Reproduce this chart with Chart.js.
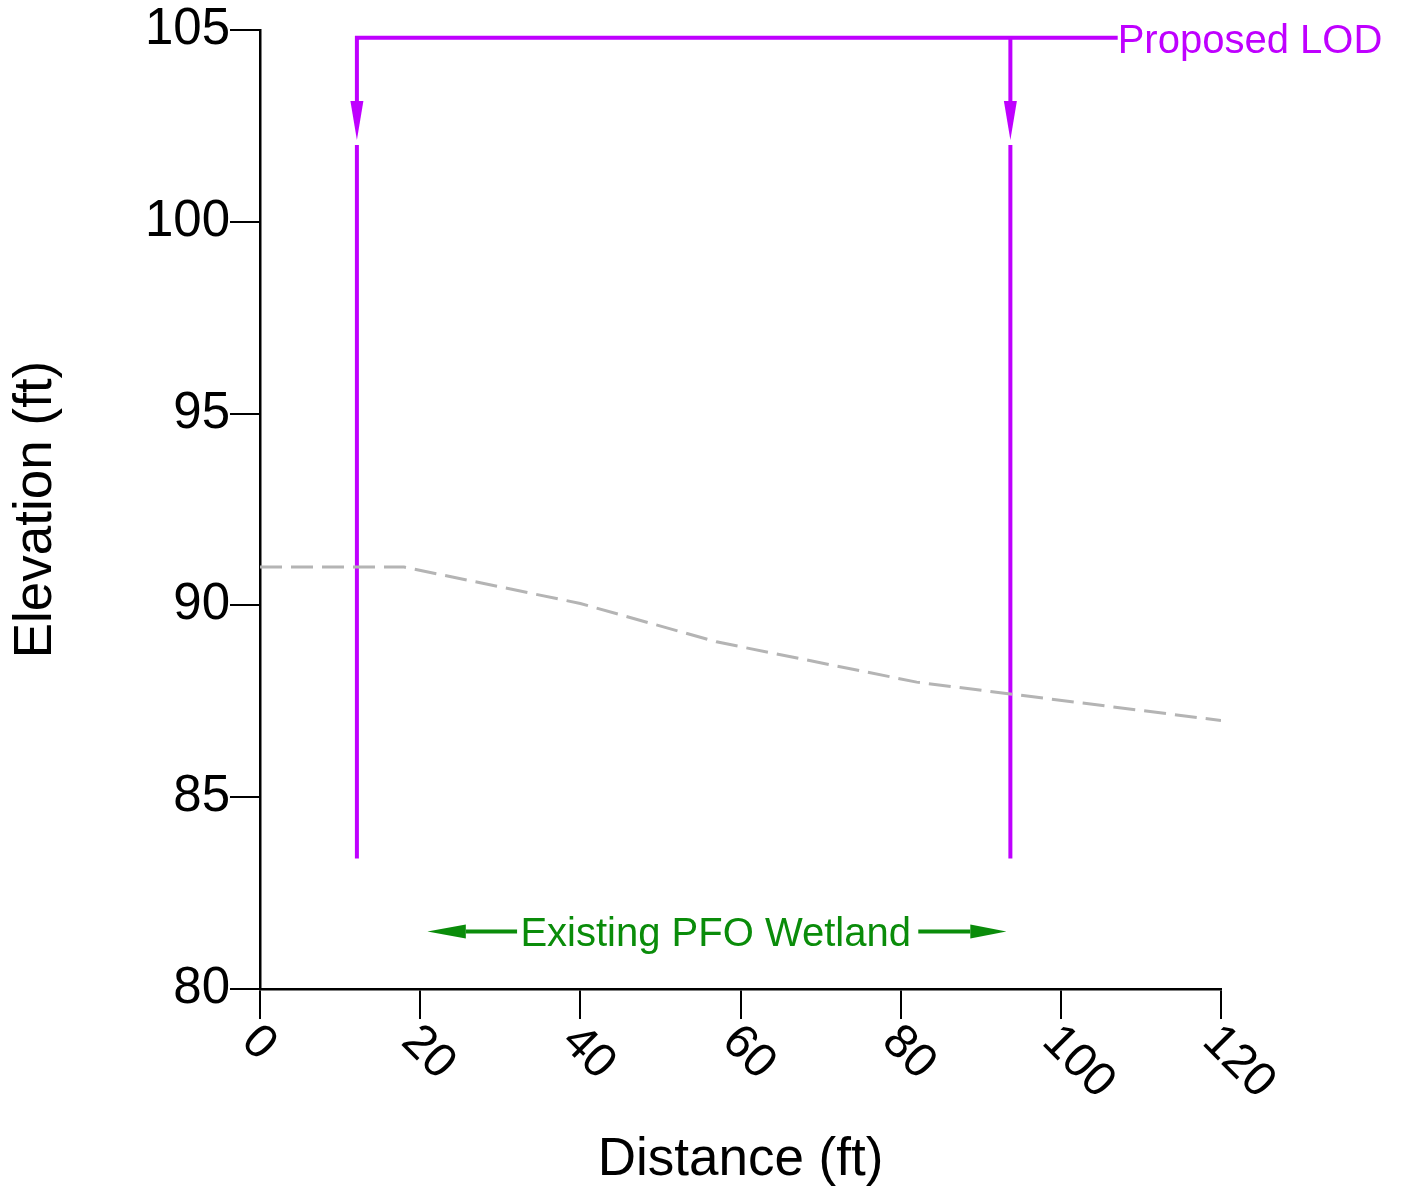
<!DOCTYPE html>
<html>
<head>
<meta charset="utf-8">
<title>Elevation profile</title>
<script src="https://cdn.jsdelivr.net/npm/chart.js@4.4.1/dist/chart.umd.min.js"></script>
<style>
  html, body { margin: 0; padding: 0; background: #fff; }
  #wrap { width: 1402px; height: 1191px; }
</style>
</head>
<body>
<div id="wrap"><canvas id="myChart" width="1402" height="1191"></canvas></div>
<script>
// ground profile (existing grade)
const groundDist = [0, 18, 40, 57, 82, 120];
const groundElev = [91, 91, 90.05, 89.05, 88.0, 87.0];

// axis ticks
const xTicks = [0, 20, 40, 60, 80, 100, 120];
const yTicks = [80, 85, 90, 95, 100, 105];

// proposed LOD lines
const lodDist = [12.1, 93.7];
const lodBottom = 83.4;
const lodLineTop = 102.0;
const lodArrowTip = 102.13;
const lodArrowBase = 103.15;
const lodBracket = 104.8;
const lodLeaderEnd = 107.1;

// existing wetland extent
const wetTips = [20.9, 93.2];
const wetHeadBase = [25.7, 88.7];
const wetTextGap = [32.1, 82.2];
const wetElev = 81.5;
const wetCenter = 56.9;

const FONT = '"Liberation Sans", Arial, Helvetica, sans-serif';
const MAGENTA = '#bf00ff';
const GREEN = '#0a8c0a';

function pts(xs, ys) {
    return xs.map((x, i) => ({x: x, y: ys[i]}));
}

function lineSet(data, color, width, dash) {
    return {
        data: data,
        borderColor: color,
        borderWidth: width,
        borderDash: dash || [],
        pointRadius: 0,
        tension: 0,
        fill: false
    };
}

const annotations = {
    id: 'annotations',
    afterDatasetsDraw(chart) {
        const ctx = chart.ctx;
        const xs = chart.scales.x, ys = chart.scales.y;
        ctx.save();

        // LOD arrowheads pointing down
        ctx.fillStyle = MAGENTA;
        lodDist.forEach(d => {
            const px = xs.getPixelForValue(d);
            const tip = ys.getPixelForValue(lodArrowTip);
            const base = ys.getPixelForValue(lodArrowBase);
            ctx.beginPath();
            ctx.moveTo(px - 6.5, base);
            ctx.lineTo(px + 6.5, base);
            ctx.lineTo(px, tip);
            ctx.closePath();
            ctx.fill();
        });

        // LOD label
        ctx.font = '40px ' + FONT;
        ctx.textAlign = 'left';
        ctx.textBaseline = 'alphabetic';
        ctx.fillText('Proposed LOD', xs.getPixelForValue(lodLeaderEnd), ys.getPixelForValue(lodBracket) + 15);

        // wetland arrowheads
        ctx.fillStyle = GREEN;
        const wy = ys.getPixelForValue(wetElev);
        [0, 1].forEach(i => {
            const tip = xs.getPixelForValue(wetTips[i]);
            const base = xs.getPixelForValue(wetHeadBase[i]);
            ctx.beginPath();
            ctx.moveTo(base, wy - 7);
            ctx.lineTo(base, wy + 7);
            ctx.lineTo(tip, wy);
            ctx.closePath();
            ctx.fill();
        });
        ctx.textAlign = 'center';
        ctx.fillText('Existing PFO Wetland', xs.getPixelForValue(wetCenter), wy + 15);

        // x tick labels, turned clockwise
        ctx.fillStyle = '#000';
        ctx.font = '48px ' + FONT;
        ctx.textAlign = 'left';
        ctx.textBaseline = 'middle';
        xs.ticks.forEach(t => {
            const px = xs.getPixelForValue(t.value);
            ctx.save();
            ctx.translate(px - 11, xs.top + 45);
            ctx.rotate(Math.PI / 4);
            ctx.fillText(String(t.value), 0, 0);
            ctx.restore();
        });
        ctx.restore();
    }
};

const ctx = document.getElementById('myChart').getContext('2d');
const myChart = new Chart(ctx, {
    type: 'line',
    data: {
        datasets: [
            lineSet(pts(groundDist, groundElev), '#b4b4b4', 3, [22, 9]),
            lineSet([{x: lodDist[0], y: lodBottom}, {x: lodDist[0], y: lodLineTop}], MAGENTA, 4),
            lineSet([{x: lodDist[1], y: lodBottom}, {x: lodDist[1], y: lodLineTop}], MAGENTA, 4),
            lineSet([{x: lodDist[0], y: lodArrowBase}, {x: lodDist[0], y: lodBracket}, {x: lodLeaderEnd, y: lodBracket}], MAGENTA, 4),
            lineSet([{x: lodDist[1], y: lodBracket}, {x: lodDist[1], y: lodArrowBase}], MAGENTA, 4),
            lineSet([{x: wetHeadBase[0], y: wetElev}, {x: wetTextGap[0], y: wetElev}], GREEN, 4),
            lineSet([{x: wetTextGap[1], y: wetElev}, {x: wetHeadBase[1], y: wetElev}], GREEN, 4)
        ]
    },
    options: {
        responsive: false,
        animation: false,
        devicePixelRatio: 1,
        layout: { padding: { left: 0, top: 30, right: 181, bottom: 0 } },
        plugins: {
            legend: { display: false },
            tooltip: { enabled: false }
        },
        scales: {
            x: {
                type: 'linear',
                min: 0,
                max: 120,
                afterBuildTicks: s => { s.ticks = xTicks.map(v => ({value: v})); },
                afterFit: s => { s.height = 202; },
                ticks: { color: 'rgba(0,0,0,0)', maxRotation: 0, autoSkip: false, font: { size: 20, family: FONT } },
                grid: { drawOnChartArea: false, drawTicks: true, tickLength: 30, color: '#000', lineWidth: 2 },
                border: { display: true, color: '#000', width: 2.5 },
                title: {
                    display: true,
                    text: 'Distance (ft)',
                    color: '#000',
                    font: { size: 53, family: FONT, lineHeight: 1 },
                    padding: { top: 0, bottom: 4 }
                }
            },
            y: {
                type: 'linear',
                min: 80,
                max: 105,
                afterBuildTicks: s => { s.ticks = yTicks.map(v => ({value: v})); },
                afterFit: s => { s.width = 260; },
                ticks: { color: '#000', padding: 0, font: { size: 51, family: FONT, lineHeight: 1 } },
                grid: { drawOnChartArea: false, drawTicks: true, tickLength: 30, color: '#000', lineWidth: 2 },
                border: { display: true, color: '#000', width: 2.5 },
                title: {
                    display: true,
                    text: 'Elevation (ft)',
                    color: '#000',
                    font: { size: 53, family: FONT, lineHeight: 1 },
                    padding: { top: 10, bottom: 0 }
                }
            }
        }
    },
    plugins: [annotations]
});
</script>
</body>
</html>
